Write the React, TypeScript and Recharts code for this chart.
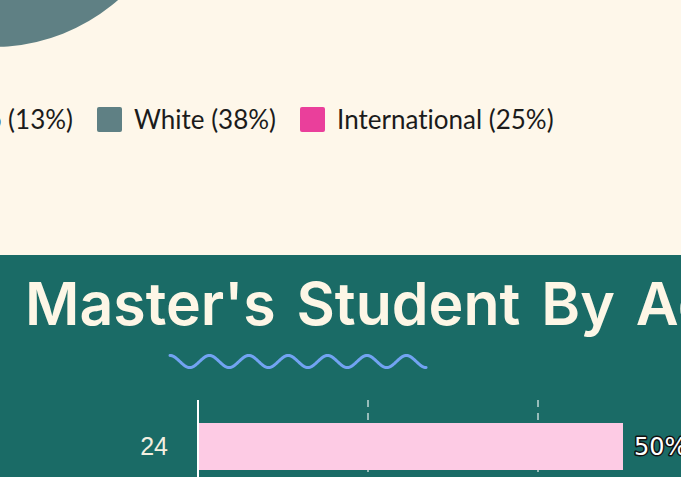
import React from "react";
import { PieChart, Pie, Cell, BarChart, Bar, XAxis, YAxis, CartesianGrid, LabelList } from "recharts";

// ---- Data ----
const ethnicityNames = ["Asian", "Black", "Hispanic/Latino", "White", "International"];
const ethnicityPct = [14, 10, 13, 38, 25];
const ethnicityColors = ["#f4b942", "#8fb8de", "#f08a5d", "#5f8084", "#ea3f9b"];

const ageCategories = ["24"];
const ageValues = [50];
const ageTicks = [0, 20, 40, 60];

const pieData = ethnicityNames.map((n, i) => ({ name: n, value: ethnicityPct[i] }));
const barData = ageCategories.map((a, i) => ({ age: a, pct: ageValues[i] }));

const CREAM = "#fef7ea";
const TEAL = "#1a6b66";

function wavePath(x0: number, yMid: number, amp: number, period: number, cycles: number) {
  const pts: string[] = [];
  const total = period * cycles;
  const n = 260;
  for (let i = 0; i <= n; i++) {
    const t = (i / n) * total;
    const y = yMid - amp * Math.cos((2 * Math.PI * t) / period);
    pts.push(`${i === 0 ? "M" : "L"}${(x0 + t).toFixed(2)},${y.toFixed(2)}`);
  }
  return pts.join(" ");
}

const LegendItem = ({ i }: { i: number }) => (
  <div style={{ display: "flex", alignItems: "center", whiteSpace: "nowrap" }}>
    <div
      style={{
        width: 25,
        height: 25,
        background: ethnicityColors[i],
        borderRadius: 2,
        marginRight: 12,
        flex: "none",
      }}
    />
    <span
      style={{
        fontFamily: "Lato",
        fontSize: 26,
        lineHeight: "28px",
        color: "#1b1b1b",
        fontVariantLigatures: "none",
      }}
    >
      {`${ethnicityNames[i]} (${ethnicityPct[i]}%)`}
    </span>
  </div>
);

const renderPctLabel = (props: any) => {
  const { x, y, width, height, value } = props;
  return (
    <text
      x={Number(x) + Number(width) + 11}
      y={Number(y) + Number(height) / 2}
      dominantBaseline="central"
      textAnchor="start"
      fontFamily="DejaVu Sans"
      fontSize={24}
      fill="#ffffff"
      stroke="#111111"
      strokeWidth={3}
      paintOrder="stroke"
      strokeLinejoin="round"
    >
      {`${value}%`}
    </text>
  );
};

export default function App() {
  return (
    <div
      style={{
        position: "absolute",
        left: 0,
        top: 0,
        width: 681,
        height: 477,
        overflow: "hidden",
        background: TEAL,
      }}
    >
      {/* cream section */}
      <div
        style={{
          position: "absolute",
          left: 0,
          top: 0,
          width: 681,
          height: 255,
          background: CREAM,
          overflow: "hidden",
        }}
      >
        <div style={{ position: "absolute", left: -207, top: -343 }}>
          <PieChart width={400} height={400} margin={{ top: 0, right: 0, bottom: 0, left: 0 }}>
            <Pie
              data={pieData}
              dataKey="value"
              nameKey="name"
              cx={200}
              cy={200}
              outerRadius={190}
              startAngle={90}
              endAngle={450}
              stroke="none"
              isAnimationActive={false}
            >
              {pieData.map((d, i) => (
                <Cell key={d.name} fill={ethnicityColors[i]} />
              ))}
            </Pie>
          </PieChart>
        </div>
        {/* legend: items before White, right-aligned */}
        <div
          style={{
            position: "absolute",
            right: 681 - 73,
            top: 105,
            display: "flex",
            gap: 25,
          }}
        >
          {[0, 1, 2].map((i) => (
            <LegendItem key={i} i={i} />
          ))}
        </div>
        <div
          style={{
            position: "absolute",
            left: 97,
            top: 105,
            display: "flex",
            gap: 24,
          }}
        >
          {[3, 4].map((i) => (
            <LegendItem key={i} i={i} />
          ))}
        </div>
      </div>

      {/* teal section */}
      <div
        style={{
          position: "absolute",
          left: 25,
          top: 274,
          fontFamily: "Inter",
          fontWeight: 600,
          fontSize: 59,
          lineHeight: "60px",
          wordSpacing: 6,
          color: "#fdf6e6",
          whiteSpace: "nowrap",
        }}
      >
        Master's Student By Age
      </div>
      <svg style={{ position: "absolute", left: 0, top: 0 }} width={681} height={477}>
        <path
          d={wavePath(170, 361.5, 6, 39.4, 6.5)}
          fill="none"
          stroke="#72a3f2"
          strokeWidth={3}
          strokeLinecap="round"
        />
      </svg>
      <div style={{ position: "absolute", left: 0, top: 390 }}>
        <BarChart
          width={760}
          height={103}
          data={barData}
          layout="vertical"
          margin={{ top: 10, right: 52, left: 0, bottom: 0 }}
        >
          <CartesianGrid
            horizontal={false}
            stroke="rgba(255,255,255,0.55)"
            strokeDasharray="7 6"
            strokeWidth={2}
          />
          <XAxis type="number" domain={[0, 60]} ticks={ageTicks} hide />
          <YAxis
            type="category"
            dataKey="age"
            width={198}
            axisLine={{ stroke: "#ffffff", strokeWidth: 2 }}
            tickLine={false}
            tickSize={0}
            tickMargin={30}
            tick={{ fill: "#f3efe0", fontSize: 25, fontFamily: "Liberation Sans" }}
          />
          <Bar dataKey="pct" fill="#fdcbe4" barSize={47} isAnimationActive={false}>
            <LabelList dataKey="pct" content={renderPctLabel} />
          </Bar>
        </BarChart>
      </div>
    </div>
  );
}
